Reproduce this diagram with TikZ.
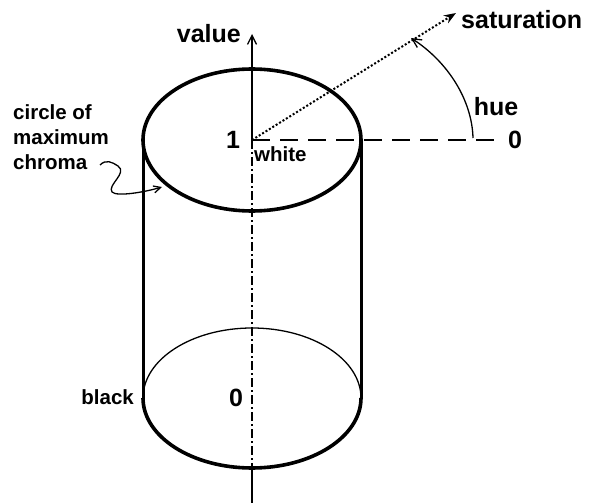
\documentclass[tikz,border=0pt]{standalone}
\usepackage{fontspec}
\setmainfont{Liberation Sans}
\usetikzlibrary{arrows.meta}

\begin{document}
\begin{tikzpicture}[x=1pt, y=-1pt,
    biglabel/.style={font=\fontsize{25}{27}\selectfont\bfseries, inner sep=0pt},
    smalllabel/.style={font=\fontsize{20.5}{25}\selectfont\bfseries, inner sep=0pt},
    rim/.style={line width=3.6pt},
    side/.style={line width=3pt},
    thinline/.style={line width=1.3pt},
    dashdot/.style={thinline, dash pattern=on 9pt off 3pt on 2pt off 3pt},
    openarr/.style={-{Straight Barb[length=9pt, width=9pt, line width=1.3pt]}},
]
\useasboundingbox (0,0) rectangle (590,503);

% Key points
\coordinate (c1) at (252,140);
\coordinate (c0) at (252,398);
\coordinate (vtip) at (252,34);
\coordinate (axisend) at (252,503);
\coordinate (axisfoot) at (252,468);
\coordinate (stip) at (456,13);
\coordinate (hstart) at (473,138);
\coordinate (hend) at (411,38);
\coordinate (dashend) at (500,140);
\coordinate (sqstart) at (100,165);
\coordinate (sqend) at (162,187);

% ============ Cylinder ============
\draw[thinline] (361,398) arc[start angle=0, end angle=-180, x radius=109, y radius=70];
\draw[rim] (361,398) arc[start angle=0, end angle=180, x radius=109, y radius=70];
\draw[side] (143,140) -- (143,398);
\draw[side] (361,140) -- (361,398);
\draw[rim] (c1) ellipse[x radius=109, y radius=71];

% ============ Axes ============
\draw[thinline, openarr] (c1) -- (vtip);
\draw[dashdot] (c1) -- (axisfoot);
\draw[thinline] (axisfoot) -- (axisend);
\draw[thinline, dash pattern=on 18pt off 10pt] (c1) -- (dashend);
\draw[line width=2pt, dotted, -{Stealth[length=12pt, width=9pt]}] (c1) -- (stip);
\draw[thinline, openarr] (hstart) .. controls (472,100) and (448,62) .. (hend);

% ============ Labels ============
\node[biglabel, anchor=east] (value) at (241,34) {value};
\node[biglabel, anchor=west] (sat) at (461,20) {saturation};
\node[biglabel] (hue) at (496,107) {hue};
\node[biglabel] (zero) at (515,140) {0};
\node[biglabel] (one) at (233,140) {1};
\node[smalllabel, anchor=north west] (white) at (254,146) {white};
\node[biglabel] (nil) at (236,398) {0};
\node[smalllabel, anchor=east] (black) at (134,397) {black};
\node[smalllabel, anchor=north west, align=left] (chroma) at (13,104) {circle of\\maximum\\chroma};

% Pointer to the rim
\draw[thinline, -{Straight Barb[length=7pt, width=7pt, line width=1.3pt]}]
    (sqstart) .. controls (106,159) and (112,162) .. (118,166)
    .. controls (128,173) and (107,185) .. (112,192)
    .. controls (117,197) and (145,192) .. (sqend);

\end{tikzpicture}
\end{document}
